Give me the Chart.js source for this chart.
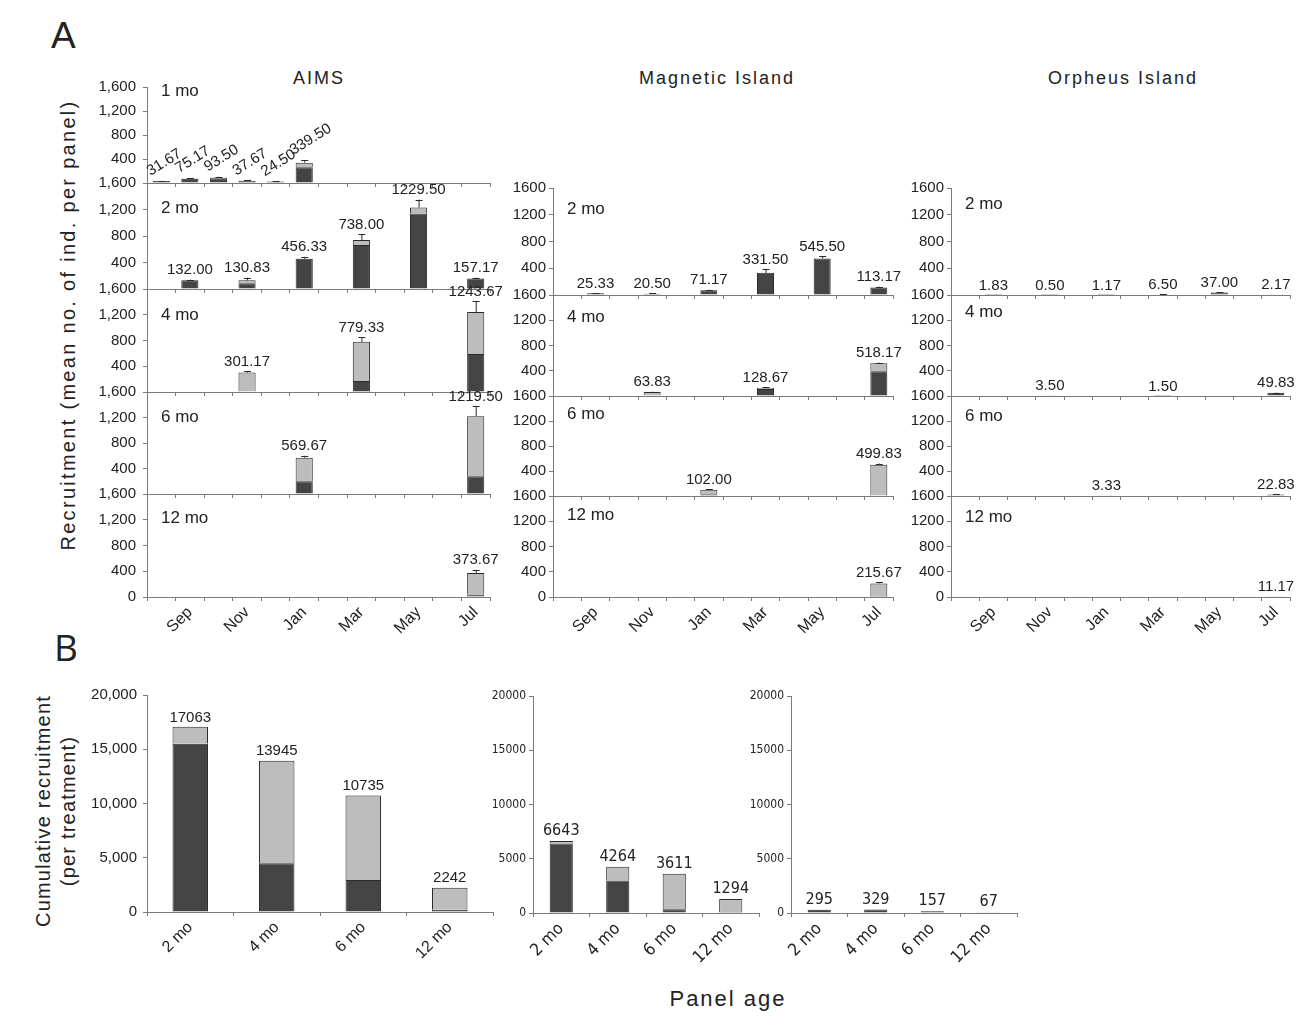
<!DOCTYPE html>
<html lang="en">
<head>
<meta charset="UTF-8">
<title>Coral recruitment by panel age</title>
<script src="https://cdn.jsdelivr.net/npm/chart.js"></script>
<style>
  body { margin: 0; background: #fff; font-family: 'Liberation Sans', Arial, sans-serif; color: #222; }
  #page { position: relative; width: 1308px; height: 1022px; overflow: hidden; background: #fff; }
  #page canvas { position: absolute; }
  .txt { position: absolute; white-space: nowrap; color: #222; }
  .big { font-size: 37px; line-height: 1; }
  .col { font-size: 18px; letter-spacing: 2px; transform: translateX(-50%); }
  .ytitle { font-size: 20px; transform-origin: 0 0; transform: rotate(-90deg); text-align: center; line-height: 25px; }
</style>
</head>
<body>
<div id="page">
  <div class="txt big" style="left:51px; top:17px;">A</div>
  <div class="txt big" style="left:54px; top:628px; font-family:'Open Sans', sans-serif;">B</div>
  <div class="txt col" style="left:319px; top:68px;">AIMS</div>
  <div class="txt col" style="left:717px; top:68px;">Magnetic Island</div>
  <div class="txt col" style="left:1123px; top:68px;">Orpheus Island</div>
  <div class="txt ytitle" style="left:56px; top:555px; width:460px; letter-spacing:2.3px;">Recruitment (mean no. of ind. per panel)</div>
  <div class="txt ytitle" style="left:31px; top:936px; width:250px; letter-spacing:1.2px;">Cumulative recruitment<br>(per treatment)</div>
  <div class="txt" style="left:728px; top:986px; font-size:22px; letter-spacing:2px; transform:translateX(-50%);">Panel age</div>
</div>
<script>
// ---- data ----
const months = ['', 'Sep', '', 'Nov', '', 'Jan', '', 'Mar', '', 'May', '', 'Jul'];
const ages = ['2 mo', '4 mo', '6 mo', '12 mo'];
const n = null;

// AIMS (mean per panel; dark = lower shaded share; err = error bar)
const aims1Total = [31.67, 75.17, 93.50, 37.67, 24.50, 339.50, n, n, n, n, n, n];
const aims1Dark  = [31.67, 70, 78, 37.67, 24.50, 262, n, n, n, n, n, n];
const aims1Err   = [5, 8, 12, 4, 4, 45, n, n, n, n, n, n];
const aims2Total = [n, 132.00, n, 130.83, n, 456.33, n, 738.00, n, 1229.50, n, 157.17];
const aims2Dark  = [n, 132.00, n, 85, n, 456.33, n, 663, n, 1140, n, 157.17];
const aims2Err   = [n, 8, n, 40, n, 30, n, 85, n, 120, n, 15];
const aims4Total = [n, n, n, 301.17, n, n, n, 779.33, n, n, n, 1243.67];
const aims4Dark  = [n, n, n, 12, n, n, n, 170, n, n, n, 590];
const aims4Err   = [n, n, n, 25, n, n, n, 75, n, n, n, 170];
const aims6Total = [n, n, n, n, n, 569.67, n, n, n, n, n, 1219.50];
const aims6Dark  = [n, n, n, n, n, 200, n, n, n, n, n, 280];
const aims6Err   = [n, n, n, n, n, 30, n, n, n, n, n, 160];
const aims12Total = [n, n, n, n, n, n, n, n, n, n, n, 373.67];
const aims12Dark  = [n, n, n, n, n, n, n, n, n, n, n, 40];
const aims12Err   = [n, n, n, n, n, n, n, n, n, n, n, 50];

// Magnetic Island
const mag2Total = [n, 25.33, n, 20.50, n, 71.17, n, 331.50, n, 545.50, n, 113.17];
const mag2Dark  = [n, 25.33, n, 20.50, n, 71.17, n, 331.50, n, 545.50, n, 113.17];
const mag2Err   = [n, 3, n, 3, n, 8, n, 50, n, 35, n, 12];
const mag4Total = [n, n, n, 63.83, n, n, n, 128.67, n, n, n, 518.17];
const mag4Dark  = [n, n, n, 10, n, n, n, 110, n, n, n, 393];
const mag4Err   = [n, n, n, 5, n, n, n, 10, n, n, n, 12];
const mag6Total = [n, n, n, n, n, 102.00, n, n, n, n, n, 499.83];
const mag6Dark  = [n, n, n, n, n, 30, n, n, n, n, n, 10];
const mag6Err   = [n, n, n, n, n, 5, n, n, n, n, n, 20];
const mag12Total = [n, n, n, n, n, n, n, n, n, n, n, 215.67];
const mag12Dark  = [n, n, n, n, n, n, n, n, n, n, n, 5];
const mag12Err   = [n, n, n, n, n, n, n, n, n, n, n, 15];

// Orpheus Island
const orp2Total = [n, 1.83, n, 0.50, n, 1.17, n, 6.50, n, 37.00, n, 2.17];
const orp2Dark  = [n, 1.83, n, 0.50, n, 1.17, n, 6.50, n, 37.00, n, 2.17];
const orp2Err   = [n, 0, n, 0, n, 0, n, 2, n, 5, n, 0];
const orp4Total = [n, n, n, 3.50, n, n, n, 1.50, n, n, n, 49.83];
const orp4Dark  = [n, n, n, 3.50, n, n, n, 1.50, n, n, n, 49.83];
const orp4Err   = [n, n, n, 0, n, n, n, 0, n, n, n, 5];
const orp6Total = [n, n, n, n, n, 3.33, n, n, n, n, n, 22.83];
const orp6Dark  = [n, n, n, n, n, 3.33, n, n, n, n, n, 22.83];
const orp6Err   = [n, n, n, n, n, 0, n, n, n, n, n, 4];
const orp12Total = [n, n, n, n, n, n, n, n, n, n, n, 11.17];
const orp12Dark  = [n, n, n, n, n, n, n, n, n, n, n, 11.17];
const orp12Err   = [n, n, n, n, n, n, n, n, n, n, n, 0];

// Part B: cumulative recruitment per treatment
const aimsCumTotal = [17063, 13945, 10735, 2242];
const aimsCumDark  = [15500, 4500, 2950, 200];
const magCumTotal  = [6643, 4264, 3611, 1294];
const magCumDark   = [6400, 3000, 350, 100];
const orpCumTotal  = [295, 329, 157, 67];
const orpCumDark   = [295, 329, 157, 67];

// ---- drawing ----
const DARK = '#444444';
const LIGHT = '#bdbdbd';
const EDGE = '#2a2a2a';
const AXIS = '#7a7a7a';
const FONT = "'Liberation Sans', Arial, sans-serif";
const NARROW = "'Liberation Sans Narrow', 'DejaVu Sans Condensed', 'Liberation Sans', sans-serif";
const page = document.getElementById('page');

const decoPlugin = {
  id: 'deco',
  afterDatasetsDraw(chart, args, o) {
    const ctx = chart.ctx;
    const xs = chart.scales.x, ys = chart.scales.y;
    ctx.save();
    o.totals.forEach((t, i) => {
      if (t === null) return;
      const x = xs.getPixelForValue(i);
      const top = ys.getPixelForValue(t);
      const e = (o.errs && o.errs[i]) || 0;
      const eTop = ys.getPixelForValue(t + e);
      if (e > 0) {
        ctx.strokeStyle = EDGE;
        ctx.lineWidth = 1;
        ctx.beginPath();
        ctx.moveTo(x + 0.5, top);
        ctx.lineTo(x + 0.5, eTop);
        ctx.moveTo(x - 3, Math.round(eTop) + 0.5);
        ctx.lineTo(x + 4, Math.round(eTop) + 0.5);
        ctx.stroke();
      }
      ctx.fillStyle = '#222';
      ctx.font = o.font;
      const txt = o.decimals ? t.toFixed(2) : String(t);
      if (o.rotate) {
        ctx.translate(x - 9, eTop - 2);
        ctx.rotate(-32 * Math.PI / 180);
        ctx.textAlign = 'left';
        ctx.textBaseline = 'bottom';
        ctx.fillText(txt, 0, 0);
        ctx.setTransform(1, 0, 0, 1, 0, 0);
      } else {
        ctx.textAlign = 'center';
        ctx.textBaseline = 'bottom';
        ctx.fillText(txt, x, eTop - 2);
      }
    });
    if (o.label) {
      ctx.font = '17px ' + FONT;
      ctx.fillStyle = '#222';
      ctx.textAlign = 'left';
      ctx.textBaseline = 'middle';
      ctx.fillText(o.label, chart.chartArea.left + 14, chart.chartArea.top + o.labelDy);
    }
    ctx.restore();
  }
};

function lightOf(total, dark) {
  return total.map((t, i) => t === null ? null : Math.max(t - dark[i], 0));
}

function makeCanvas(left, top, w, h) {
  const c = document.createElement('canvas');
  c.width = w; c.height = h;
  c.style.left = left + 'px';
  c.style.top = top + 'px';
  c.style.width = w + 'px';
  c.style.height = h + 'px';
  page.appendChild(c);
  return c;
}

function barChart(g) {
  // generous padding so tick-label overflow never shrinks the plot area
  const Y_W = g.yW, PAD_T = 22, PAD_R = 30;
  const X_H = g.xH;
  const w = (g.right - g.axisX) + Y_W + PAD_R;
  const h = PAD_T + (g.bottom - g.top) + X_H + 30;
  const canvas = makeCanvas(g.axisX - Y_W, g.top - PAD_T, w, h);
  return new Chart(canvas, {
    type: 'bar',
    data: {
      labels: g.labels,
      datasets: [
        { data: g.dark, backgroundColor: DARK, borderColor: EDGE, borderWidth: 1,
          barPercentage: g.barPct, categoryPercentage: 1 },
        { data: lightOf(g.total, g.dark), backgroundColor: LIGHT, borderColor: EDGE, borderWidth: 1,
          barPercentage: g.barPct, categoryPercentage: 1 }
      ]
    },
    options: {
      responsive: false,
      animation: false,
      layout: { padding: { top: PAD_T, right: PAD_R, left: 0, bottom: 30 } },
      plugins: {
        legend: { display: false },
        tooltip: { enabled: false },
        deco: { totals: g.total, errs: g.errs, rotate: g.rotate, decimals: g.decimals,
                font: g.valueFont, label: g.label, labelDy: g.labelDy }
      },
      scales: {
        x: {
          stacked: true,
          offset: true,
          afterFit: s => { s.height = X_H; },
          grid: { offset: true, drawOnChartArea: false, tickLength: 4, color: AXIS },
          border: { color: AXIS },
          ticks: { display: g.showX, autoSkip: false, minRotation: 45, maxRotation: 45,
                   padding: 2, color: '#222', font: g.xFont }
        },
        y: {
          stacked: true,
          min: 0, max: g.max,
          afterFit: s => { s.width = Y_W; },
          grid: { drawOnChartArea: false, tickLength: 4, color: AXIS },
          border: { color: AXIS },
          ticks: {
            stepSize: g.step, padding: g.yPad, color: '#222', font: g.yFont,
            callback: v => {
              if (v % g.labelStep !== 0) return '';
              if (v === 0 && !g.showZero) return '';
              return g.comma ? v.toLocaleString('en-US') : String(v);
            }
          }
        }
      }
    },
    plugins: [decoPlugin]
  });
}

// Part A panels
const colA = [
  { axisX: 147, right: 490, comma: true, yPad: 7, panels: [
    { top: 87, bottom: 183, label: '1 mo', labelDy: 4, total: aims1Total, dark: aims1Dark, errs: aims1Err, rotate: true },
    { top: 183, bottom: 289, label: '2 mo', labelDy: 25, total: aims2Total, dark: aims2Dark, errs: aims2Err },
    { top: 289, bottom: 392, label: '4 mo', labelDy: 26, total: aims4Total, dark: aims4Dark, errs: aims4Err },
    { top: 392, bottom: 494, label: '6 mo', labelDy: 25, total: aims6Total, dark: aims6Dark, errs: aims6Err },
    { top: 494, bottom: 597, label: '12 mo', labelDy: 24, total: aims12Total, dark: aims12Dark, errs: aims12Err }
  ]},
  { axisX: 553, right: 893, comma: false, yPad: 3, panels: [
    { top: 188, bottom: 295, label: '2 mo', labelDy: 21, total: mag2Total, dark: mag2Dark, errs: mag2Err },
    { top: 295, bottom: 396, label: '4 mo', labelDy: 22, total: mag4Total, dark: mag4Dark, errs: mag4Err },
    { top: 396, bottom: 496, label: '6 mo', labelDy: 18, total: mag6Total, dark: mag6Dark, errs: mag6Err },
    { top: 496, bottom: 597, label: '12 mo', labelDy: 19, total: mag12Total, dark: mag12Dark, errs: mag12Err }
  ]},
  { axisX: 951, right: 1290, comma: false, yPad: 3, panels: [
    { top: 188, bottom: 295, label: '2 mo', labelDy: 16, total: orp2Total, dark: orp2Dark, errs: orp2Err },
    { top: 295, bottom: 396, label: '4 mo', labelDy: 17, total: orp4Total, dark: orp4Dark, errs: orp4Err },
    { top: 396, bottom: 496, label: '6 mo', labelDy: 20, total: orp6Total, dark: orp6Dark, errs: orp6Err },
    { top: 496, bottom: 597, label: '12 mo', labelDy: 21, total: orp12Total, dark: orp12Dark, errs: orp12Err }
  ]}
];

colA.forEach(col => {
  col.panels.forEach((p, k) => {
    const last = k === col.panels.length - 1;
    barChart(Object.assign({
      axisX: col.axisX, right: col.right, comma: col.comma, yPad: col.yPad,
      labels: months, max: 1600, step: 200, labelStep: 400,
      showZero: last, showX: last, xH: last ? 50 : 22, yW: 60,
      barPct: 0.6, decimals: true, rotate: false,
      valueFont: '15px ' + FONT,
      xFont: { family: FONT, size: 16 },
      yFont: { family: FONT, size: 15 }
    }, p));
  });
});

// Part B panels
const colB = [
  { axisX: 147, right: 493, top: 695, bottom: 912, total: aimsCumTotal, dark: aimsCumDark, comma: true, family: FONT, vSize: 15, ySize: 15, xSize: 16 },
  { axisX: 533, right: 759, top: 696, bottom: 913, total: magCumTotal, dark: magCumDark, comma: false, family: NARROW, vSize: 16, ySize: 12, xSize: 17 },
  { axisX: 791, right: 1017, top: 696, bottom: 913, total: orpCumTotal, dark: orpCumDark, comma: false, family: NARROW, vSize: 16, ySize: 12, xSize: 17 }
];

colB.forEach(b => {
  barChart({
    axisX: b.axisX, right: b.right, top: b.top, bottom: b.bottom,
    labels: ages, total: b.total, dark: b.dark, errs: null, comma: b.comma,
    max: 20000, step: 5000, labelStep: 5000, showZero: true, showX: true,
    xH: 55, yW: b.comma ? 64 : 50, yPad: b.comma ? 6 : 3, barPct: 0.41, decimals: false, rotate: false,
    valueFont: b.vSize + 'px ' + b.family,
    xFont: { family: b.family, size: b.xSize },
    yFont: { family: b.family, size: b.ySize }
  });
});
</script>
</body>
</html>
